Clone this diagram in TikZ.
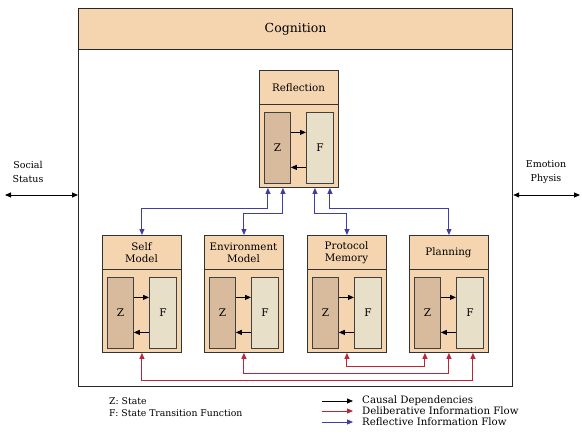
\documentclass[tikz,border=0pt]{standalone}
\usepackage{fontspec}
\setmainfont{DejaVu Serif}
\usetikzlibrary{arrows.meta}
\definecolor{peach}{RGB}{245,213,175}
\definecolor{zfill}{RGB}{216,187,156}
\definecolor{ffill}{RGB}{231,223,199}
\definecolor{bflowc}{RGB}{62,62,165}
\definecolor{rflowc}{RGB}{192,35,55}
\tikzset{
  tip/.style={-{Triangle[length=6pt,width=5pt]}},
  dtip/.style={{Triangle[length=6pt,width=5pt]}-{Triangle[length=6pt,width=5pt]}},
  unitbox/.style={draw=black!80, line width=0.9pt, fill=peach, minimum width=79pt, minimum height=117pt, inner sep=0pt, anchor=north west},
  zbox/.style={draw=black!75, line width=0.8pt, fill=zfill, minimum width=26pt, minimum height=71pt, inner sep=0pt, anchor=north west, font=\fontsize{10.5}{12}\selectfont},
  fbox/.style={draw=black!75, line width=0.8pt, fill=ffill, minimum width=27pt, minimum height=71pt, inner sep=0pt, anchor=north west, font=\fontsize{10.5}{12}\selectfont},
  unitlabel/.style={align=center, inner sep=0pt, font=\fontsize{10.3}{12}\selectfont},
  cdep/.style={tip, black, line width=0.8pt},
  bflow/.style={dtip, bflowc, line width=1pt},
  rflow/.style={dtip, rflowc, line width=1pt},
  sideflow/.style={dtip, black, line width=0.9pt},
  sidelabel/.style={align=center, inner sep=0pt, font=\fontsize{9.5}{14}\selectfont},
  legendtext/.style={anchor=west, inner sep=0pt, font=\fontsize{9.3}{11}\selectfont},
  legendtextr/.style={anchor=west, inner sep=0pt, font=\fontsize{10.2}{11}\selectfont},
  unit/.pic={
    \node[unitbox] (-box) at (0,0) {};
    \draw[black!80, line width=0.9pt] (0,34) -- (79,34);
    \node[unitlabel] (-label) at (39.5,17.5) {#1};
    \node[zbox] (-z) at (5,42) {Z};
    \node[fbox] (-f) at (47,42) {F};
    \draw[cdep] ([yshift=15.5pt]-z.east) -- ([yshift=15.5pt]-f.west);
    \draw[cdep] ([yshift=-19.5pt]-f.west) -- ([yshift=-19.5pt]-z.east);
  }
}
\begin{document}
\begin{tikzpicture}[x=1pt,y=-1pt]
\useasboundingbox (0,0) rectangle (582,434);
% outer cognition box
\node[draw=black!85, line width=1.2pt, fill=white, minimum width=434pt, minimum height=378pt, inner sep=0pt, anchor=north west] (cog) at (78,8) {};
\node[draw=black!85, line width=1.2pt, fill=peach, minimum width=434pt, minimum height=41pt, inner sep=0pt, anchor=north west, font=\fontsize{12.5}{14}\selectfont] (coghead) at (78,8) {Cognition};

% units
\pic (refl) at (259,70) {unit={Reflection}};
\pic (self) at (102,235) {unit={Self\\Model}};
\pic (env) at (204,235) {unit={Environment\\Model}};
\pic (prot) at (307,235) {unit={Protocol\\Memory}};
\pic (plan) at (409,235) {unit={Planning}};

% reflective flows (blue)
\coordinate (r1) at ([xshift=-31pt]refl-box.south);
\coordinate (r2) at ([xshift=-16pt]refl-box.south);
\coordinate (r3) at ([xshift=16pt]refl-box.south);
\coordinate (r4) at ([xshift=31pt]refl-box.south);
\draw[bflow] (r1) -- ++(0,21) -| (self-box.north);
\draw[bflow] (r2) -- ++(0,26) -| (env-box.north);
\draw[bflow] (r3) -- ++(0,26) -| (prot-box.north);
\draw[bflow] (r4) -- ++(0,21) -| (plan-box.north);

% deliberative flows (red)
\coordinate (p1) at ([xshift=-24pt]plan-box.south);
\coordinate (p2) at (plan-box.south);
\coordinate (p3) at ([xshift=24pt]plan-box.south);
\draw[rflow] (self-box.south) -- ++(0,28) -| (p3);
\draw[rflow] (env-box.south) -- ++(0,21) -| (p2);
\draw[rflow] (prot-box.south) -- ++(0,14) -| (p1);

% side flows
\node[sidelabel] (social) at (28,172) {Social\\Status};
\node[sidelabel] (emotion) at (546,172) {Emotion\\Physis};
\coordinate (sl) at (5,195);
\coordinate (sr) at (580,195);
\draw[sideflow] (sl) -- (cog.west |- sl);
\draw[sideflow] (cog.east |- sr) -- (sr);

% legend
\node[legendtext] (lz) at (109,401) {Z: State};
\node[legendtext] (lf) at (109,413) {F: State Transition Function};
\coordinate (l1a) at (322,401); \coordinate (l1b) at (353,401);
\coordinate (l2a) at (322,411); \coordinate (l2b) at (353,411);
\coordinate (l3a) at (322,422); \coordinate (l3b) at (353,422);
\draw[cdep] (l1a) -- (l1b);
\draw[tip, rflowc, line width=1pt] (l2a) -- (l2b);
\draw[tip, bflowc, line width=1pt] (l3a) -- (l3b);
\node[legendtextr] (lt1) at (362,401) {Causal Dependencies};
\node[legendtextr] (lt2) at (362,411) {Deliberative Information Flow};
\node[legendtextr] (lt3) at (362,422) {Reflective Information Flow};
\end{tikzpicture}
\end{document}
